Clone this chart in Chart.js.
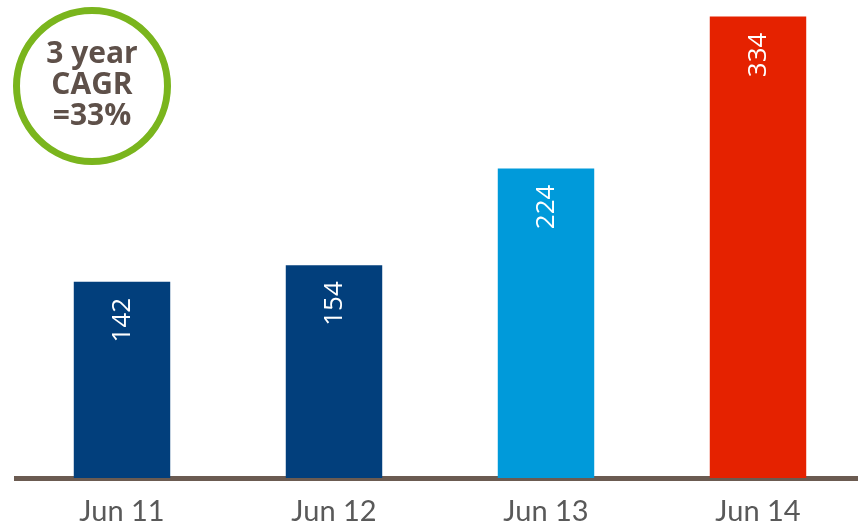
<!DOCTYPE html>
<html>
<head>
<meta charset="utf-8">
<script src="https://cdn.jsdelivr.net/npm/chart.js@4"></script>
<style>
  html, body { margin: 0; padding: 0; background: #fff; overflow: hidden; }
  #wrap { width: 864px; height: 524px; }
</style>
</head>
<body>
<div id="wrap"><canvas id="cagrChart" width="864" height="524"></canvas></div>
<script>
const periods = ['Jun 11', 'Jun 12', 'Jun 13', 'Jun 14'];
const totals = [142, 154, 224, 334];
const cagrLines = ['3 year', 'CAGR', '=33%'];

const barColors = ['#023f7c', '#023f7c', '#009ada', '#e52200'];

// value written sideways inside the top of each bar
const barValueLabels = {
    id: 'barValueLabels',
    afterDatasetsDraw(chart) {
        const { ctx } = chart;
        const meta = chart.getDatasetMeta(0);
        ctx.save();
        ctx.font = '26px "Open Sans"';
        ctx.fillStyle = '#ffffff';
        ctx.textAlign = 'right';
        ctx.textBaseline = 'middle';
        meta.data.forEach((bar, i) => {
            ctx.save();
            ctx.translate(bar.x + 1, bar.y + 16);
            ctx.rotate(-Math.PI / 2);
            ctx.fillText(String(chart.data.datasets[0].data[i]), 0, 0);
            ctx.restore();
        });
        ctx.restore();
    }
};

// green ring with the growth note in the top-left corner
const cagrBadge = {
    id: 'cagrBadge',
    afterDraw(chart) {
        const { ctx } = chart;
        const cx = 92, cy = 86;
        ctx.save();
        ctx.beginPath();
        ctx.arc(cx, cy, 75.5, 0, Math.PI * 2);
        ctx.lineWidth = 7;
        ctx.strokeStyle = '#7ab51d';
        ctx.stroke();
        ctx.font = 'bold 30px "Open Sans"';
        ctx.fillStyle = '#5e5049';
        ctx.textAlign = 'center';
        ctx.textBaseline = 'middle';
        cagrLines.forEach((line, i) => {
            ctx.fillText(line, cx, 54 + i * 31);
        });
        ctx.restore();
    }
};

new Chart(document.getElementById('cagrChart'), {
    type: 'bar',
    data: {
        labels: periods,
        datasets: [{
            data: totals,
            backgroundColor: barColors,
            borderWidth: 0,
            barPercentage: 0.455,
            categoryPercentage: 1
        }]
    },
    options: {
        responsive: false,
        animation: false,
        layout: { padding: { left: 16, right: 0, top: 0, bottom: 0 } },
        plugins: {
            legend: { display: false },
            tooltip: { enabled: false }
        },
        scales: {
            x: {
                z: 1,
                grid: { display: false, drawTicks: false },
                border: { display: true, color: '#6b5b51', width: 5 },
                ticks: {
                    color: '#595959',
                    font: { family: 'Lato', size: 29 },
                    padding: 16
                },
                afterFit(scale) { scale.height = 46; }
            },
            y: {
                display: false,
                min: 0,
                max: 346
            }
        }
    },
    plugins: [barValueLabels, cagrBadge]
});
</script>
</body>
</html>
